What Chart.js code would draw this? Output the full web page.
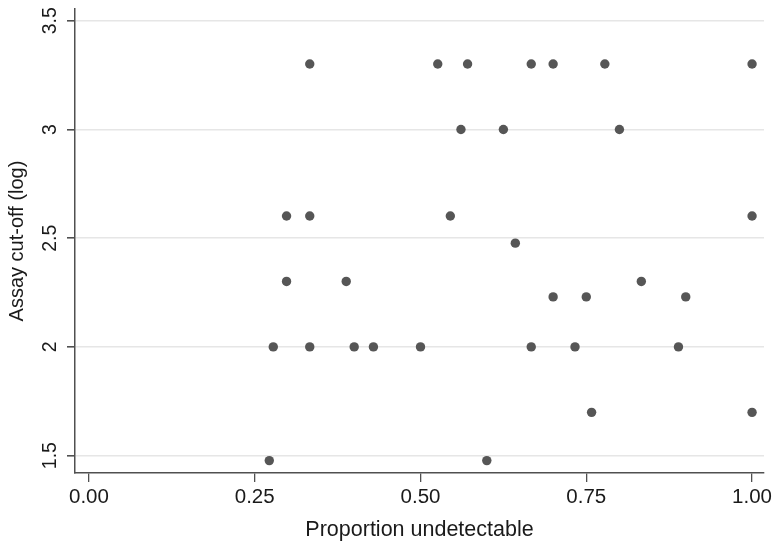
<!DOCTYPE html>
<html>
<head>
<meta charset="utf-8">
<script src="https://cdn.jsdelivr.net/npm/chart.js@4"></script>
<style>
  html, body { margin: 0; padding: 0; background: #fff; }
  #wrap { width: 779px; height: 549px; }
</style>
</head>
<body>
<div id="wrap"><canvas id="chart" width="779" height="549"></canvas></div>
<script>
const X_VALUES = [
  0.333, 0.526, 0.571, 0.667, 0.700, 0.778, 1.000,
  0.561, 0.625, 0.800,
  0.298, 0.333, 0.545, 1.000,
  0.643,
  0.298, 0.388, 0.833,
  0.700, 0.750, 0.900,
  0.278, 0.333, 0.400, 0.429, 0.500, 0.667, 0.733, 0.889,
  0.758, 1.000,
  0.272, 0.600
];
const Y_VALUES = [
  3.301, 3.301, 3.301, 3.301, 3.301, 3.301, 3.301,
  3.000, 3.000, 3.000,
  2.602, 2.602, 2.602, 2.602,
  2.477,
  2.301, 2.301, 2.301,
  2.230, 2.230, 2.230,
  2.000, 2.000, 2.000, 2.000, 2.000, 2.000, 2.000, 2.000,
  1.699, 1.699,
  1.477, 1.477
];
const X_TICKS = [0, 0.25, 0.5, 0.75, 1];
const Y_TICKS = [1.5, 2, 2.5, 3, 3.5];
const Y_TICK_LABELS = ['1.5', '2', '2.5', '3', '3.5'];

const FONT = "'Liberation Sans', Arial, sans-serif";
const INK = '#1a1a1a';
const AXIS = '#505050';

// y tick labels read bottom-to-top, like the Stata original
const rotatedYLabels = {
  id: 'rotatedYLabels',
  afterDraw(chart) {
    const { ctx } = chart;
    const y = chart.scales.y;
    ctx.save();
    ctx.fillStyle = INK;
    ctx.font = '19.5px ' + FONT;
    ctx.textAlign = 'center';
    ctx.textBaseline = 'middle';
    Y_TICKS.forEach((v, i) => {
      ctx.save();
      ctx.translate(51, y.getPixelForValue(v));
      ctx.rotate(-Math.PI / 2);
      ctx.fillText(Y_TICK_LABELS[i], 0, 0);
      ctx.restore();
    });
    ctx.restore();
  }
};

new Chart(document.getElementById('chart'), {
  type: 'scatter',
  data: {
    datasets: [{
      data: X_VALUES.map((x, i) => ({ x, y: Y_VALUES[i] })),
      backgroundColor: '#565656',
      borderWidth: 0,
      pointRadius: 4.7,
      pointHoverRadius: 4.7,
    }]
  },
  options: {
    responsive: false,
    animation: false,
    layout: { padding: { top: 9, right: 15, left: 0, bottom: 0 } },
    plugins: { legend: { display: false }, tooltip: { enabled: false } },
    scales: {
      x: {
        type: 'linear',
        min: -0.021,
        max: 1.018,
        afterBuildTicks: s => { s.ticks = X_TICKS.map(v => ({ value: v })); },
        afterFit: s => { s.height = 76; },
        border: { color: AXIS, width: 1.5 },
        grid: { drawOnChartArea: false, drawTicks: true, tickLength: 9, tickColor: AXIS, lineWidth: 1.3 },
        ticks: {
          color: INK,
          font: { family: FONT, size: 20.5 },
          padding: 3,
          maxRotation: 0,
          callback: v => v.toFixed(2)
        },
        title: {
          display: true,
          text: 'Proportion undetectable',
          color: INK,
          font: { family: FONT, size: 21.5 },
          padding: { top: 0, bottom: 6 }
        }
      },
      y: {
        type: 'linear',
        min: 1.42,
        max: 3.554,
        afterBuildTicks: s => { s.ticks = Y_TICKS.map(v => ({ value: v })); },
        afterFit: s => { s.width = 75; },
        border: { color: AXIS, width: 1.5 },
        grid: { color: '#e6e6e6', lineWidth: 1.6, drawTicks: true, tickLength: 8, tickColor: AXIS },
        ticks: { display: false },
        title: {
          display: true,
          text: 'Assay cut-off (log)',
          color: INK,
          font: { family: FONT, size: 20 },
          padding: { top: 5, bottom: 0 }
        }
      }
    }
  },
  plugins: [rotatedYLabels]
});
</script>
</body>
</html>
